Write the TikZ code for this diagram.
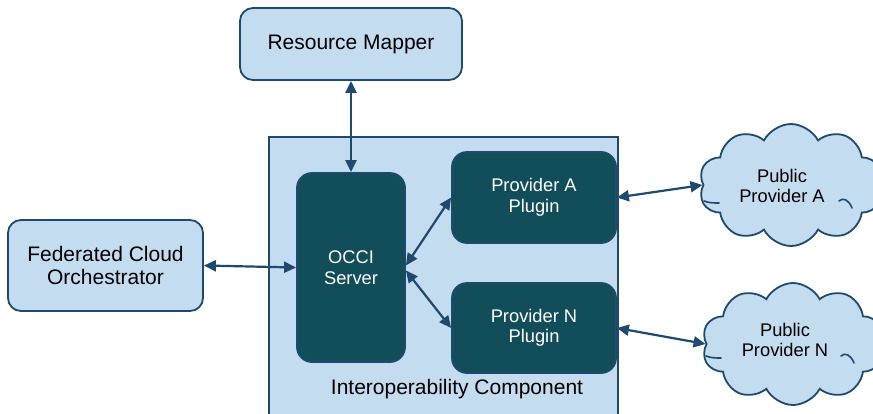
\documentclass[tikz,border=0pt]{standalone}
\usepackage{fontspec}
\setmainfont{Liberation Sans}
\usetikzlibrary{shapes.symbols,arrows.meta}
\definecolor{paleblue}{HTML}{C3DCEF}
\definecolor{edgeblue}{HTML}{1E4A6D}
\definecolor{darkteal}{HTML}{124E5A}
\begin{document}
\begin{tikzpicture}[x=1pt,y=-1pt,
  lightbox/.style={draw=edgeblue, fill=paleblue, line width=1.8pt, rounded corners=13pt,
    align=center, inner sep=0pt, text=black,
    font=\fontsize{21}{23.5}\selectfont},
  darkbox/.style={draw=edgeblue, fill=darkteal, line width=1.8pt, rounded corners=15pt,
    align=center, inner sep=0pt, text=white,
    font=\fontsize{18.3}{20.5}\selectfont},
  cloudbox/.style={cloud, cloud puffs=10, cloud puff arc=125, cloud ignores aspect,
    draw=edgeblue, fill=paleblue, line width=1.8pt, inner sep=0pt},
  cloudtext/.style={align=center, inner sep=0pt, font=\fontsize{18.3}{20.5}\selectfont},
  crease/.style={draw=edgeblue, line width=1.6pt, line cap=round},
  link/.style={draw=edgeblue, line width=2.2pt,
    {Triangle[length=12pt,width=11pt]}-{Triangle[length=12pt,width=11pt]}}
]
\useasboundingbox (0,0) rectangle (873,413);

% container of the interoperability component
\node[draw=edgeblue, fill=paleblue, line width=1.8pt, minimum width=349pt,
  minimum height=282pt, inner sep=0pt] (ic) at (443.5,278) {};
\node[font=\fontsize{21}{23.5}\selectfont] (iclabel) at (457,389) {Interoperability Component};

% boxes
\node[lightbox, minimum width=222pt, minimum height=72pt] (rm) at (351,44) {Resource Mapper};
\node[lightbox, minimum width=195pt, minimum height=91pt] (fco) at (105.5,265.5)
  {Federated Cloud\\Orchestrator};
\node[darkbox, minimum width=108pt, minimum height=189pt] (occi) at (351,267.5) {OCCI\\Server};
\node[darkbox, minimum width=164pt, minimum height=91pt] (pa) at (534,197.5) {Provider A\\Plugin};
\node[darkbox, minimum width=164pt, minimum height=90pt] (pn) at (534,328) {Provider N\\Plugin};

% public clouds, with their inner creases
\node[cloudbox, minimum width=184pt, minimum height=122pt] (ca) at (791,185) {};
\node[cloudtext] (cat) at (782,186) {Public\\Provider A};
\draw[crease] (704,201) .. controls (709,203) and (714,203) .. (719,203);
\draw[crease] (839,201) .. controls (843,197) and (849,200) .. (852,208);

\node[cloudbox, minimum width=182pt, minimum height=122pt] (cn) at (793,344) {};
\node[cloudtext] (cnt) at (785,340) {Public\\Provider N};
\draw[crease] (706,356) .. controls (711,358) and (716,358) .. (721,358);
\draw[crease] (841,356) .. controls (845,352) and (851,355) .. (854,363);

% connectors
\draw[link] (rm.south) -- (occi.north);
\draw[link] (fco.east) -- (occi.west);
\draw[link] ([yshift=2pt]occi.east) -- (pa.west);
\draw[link] ([yshift=-3pt]occi.east) -- (pn.west);
\draw[link] (pa.east) -- (ca.west);
\draw[link] (pn.east) -- (cn.west);
\end{tikzpicture}
\end{document}
